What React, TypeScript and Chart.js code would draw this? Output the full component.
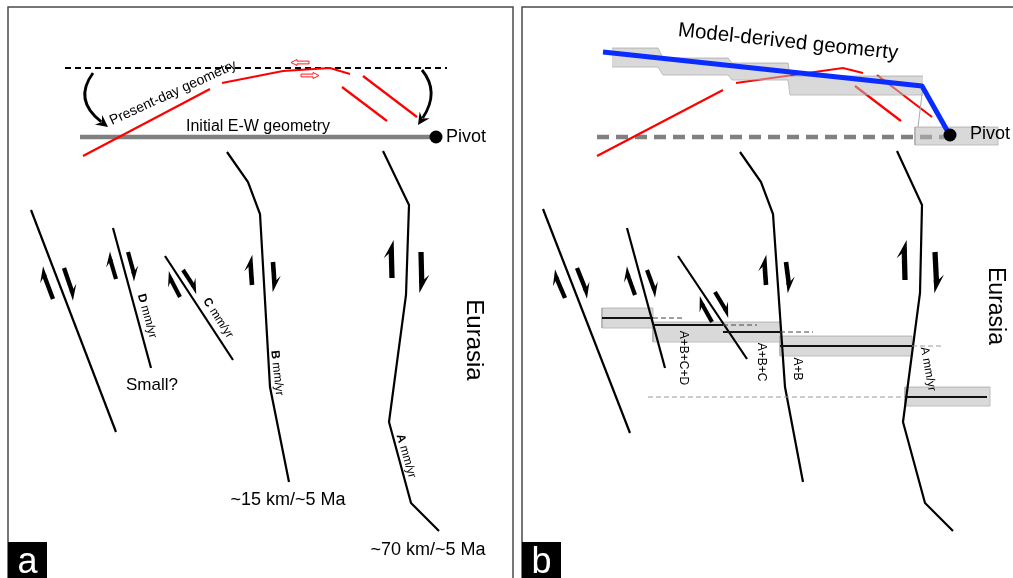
import React, { useEffect, useRef } from 'react';
import { Chart, registerables } from 'chart.js';

Chart.register(...registerables);

type P = [number, number];

// ---------- Panel a (map-view traces, page units) ----------
const aFaultWest: P[] = [[31, 210], [116, 432]];
const aFaultD: P[] = [[113, 228], [151, 368]];
const aFaultC: P[] = [[165, 256], [233, 360]];
const aFaultB: P[] = [[227, 152], [248, 182], [260, 214], [270, 387], [289, 482]];
const aFaultA: P[] = [[383, 151], [409, 205], [406, 295], [389, 422], [411, 503], [439, 531]];
const aRed1: P[] = [[83, 156], [210, 89]];
const aRed2: P[] = [[222, 83], [283, 71], [330, 68], [350, 74]];
const aRed3: P[] = [[342, 87], [387, 121]];
const aRed4: P[] = [[363, 76], [417, 117]];
const aPresentDay: P[] = [[65, 68], [447, 68]];
const aInitial: P[] = [[80, 137], [432, 137]];
const aPivot: P[] = [[436, 137]];

// ---------- Panel b ----------
const bFaultWest: P[] = [[543, 209], [630, 433]];
const bFaultD: P[] = [[627, 228], [665, 368]];
const bFaultC: P[] = [[678, 256], [747, 359]];
const bFaultB: P[] = [[740, 152], [761, 182], [773, 214], [785, 387], [803, 482]];
const bFaultA: P[] = [[897, 151], [922, 205], [920, 293], [903, 422], [925, 503], [953, 531]];
const bRed1: P[] = [[597, 156], [723, 90]];
const bRed2: P[] = [[736, 83], [843, 68], [863, 73]];
const bRed3: P[] = [[855, 86], [901, 121]];
const bRed4: P[] = [[877, 75], [932, 117]];
const bInitial: P[] = [[597, 137], [945, 137]];
const bModel: P[] = [[603, 52], [922, 86], [948, 132]];
const bModelBandTop: P[] = [[612, 48], [658, 48], [663, 58], [728, 58], [732, 63], [788, 63], [790, 76], [923, 76]];
const bModelBandBottom: P[] = [[612, 67], [658, 67], [663, 75], [728, 75], [732, 80], [788, 80], [790, 95], [923, 95]];
const bModelConnector: P[] = [[923, 86], [918, 127]];
const bPivot: P[] = [[950, 135]];
// gray uncertainty bands: [x1, x2, yTop, yBottom]
const bBands: number[][] = [[602, 653, 308, 328], [653, 780, 322, 342], [780, 912, 336, 356], [905, 990, 387, 406], [915, 998, 127, 145]];
// rate lines: [x1, x2, y]
const bRateSolid: number[][] = [[602, 653, 318], [653, 723, 325], [723, 780, 332], [780, 912, 346], [905, 987, 397]];
const bRateDashDark: number[][] = [[653, 683, 318], [723, 757, 325], [780, 813, 332]];
const bRateDashLight: number[][] = [[912, 943, 346], [648, 905, 397]];

// ---------- Annotations ----------
const panelFrames: number[][] = [[8, 7, 513, 600], [522, 7, 1030, 600]];
// harpoons: [tailX, tailY, tipX, tipY, side(-1 left / 1 right), scale]
const harpoons: number[][] = [
  [53, 299, 41, 267, -1, 1], [64, 268, 75, 300, 1, 1],
  [116, 279, 108, 252, -1, 0.95], [128, 252, 136, 281, 1, 0.95],
  [180, 297, 167, 272, -1, 0.95], [183, 270, 198, 293, 1, 0.95],
  [252, 285, 250, 255, -1, 1.05], [273, 262, 275, 292, 1, 1.05],
  [392, 278, 391, 240, -1, 1.2], [421, 252, 422, 293, 1, 1.2],
  [565, 298, 553, 270, -1, 1], [577, 268, 589, 298, 1, 1],
  [635, 295, 625, 267, -1, 0.95], [647, 270, 657, 297, 1, 0.95],
  [712, 322, 698, 297, -1, 0.95], [715, 292, 730, 317, 1, 0.95],
  [766, 285, 764, 255, -1, 1.05], [786, 262, 790, 293, 1, 1.05],
  [905, 280, 904, 240, -1, 1.2], [935, 252, 937, 293, 1, 1.2],
];
// curved rotation arrows: start, control, end
const curvedArrows: number[][] = [[93, 73, 73, 100, 108, 127], [422, 70, 440, 92, 418, 125]];
// open red slip arrows: [tipX, tipY, tailX]
const openArrows: number[][] = [[291, 62.5, 309], [319, 75.5, 301]];
const panelTags = [{ t: 'a', x: 8, y: 542 }, { t: 'b', x: 522, y: 542 }];

type Part = { t: string; b?: boolean };
type Lab = { parts: Part[]; x: number; y: number; size: number; rot?: number; align?: 'left' | 'center'; base?: CanvasTextBaseline };
const labels: Lab[] = [
  { parts: [{ t: 'Present-day geometry' }], x: 112, y: 125, size: 14, rot: -24.5, align: 'left', base: 'alphabetic' },
  { parts: [{ t: 'Initial E-W geometry' }], x: 258, y: 127, size: 16 },
  { parts: [{ t: 'Pivot' }], x: 446, y: 137, size: 18, align: 'left' },
  { parts: [{ t: 'Small?' }], x: 152, y: 385, size: 17 },
  { parts: [{ t: '~15 km/~5 Ma' }], x: 288, y: 500, size: 18 },
  { parts: [{ t: '~70 km/~5 Ma' }], x: 428, y: 550, size: 18 },
  { parts: [{ t: 'Eurasia' }], x: 474, y: 340, size: 24, rot: 90 },
  { parts: [{ t: 'D', b: true }, { t: ' mm/yr' }], x: 147, y: 316, size: 12, rot: 74.8 },
  { parts: [{ t: 'C', b: true }, { t: ' mm/yr' }], x: 218, y: 318, size: 12, rot: 56.8 },
  { parts: [{ t: 'B', b: true }, { t: ' mm/yr' }], x: 277, y: 373, size: 12, rot: 84 },
  { parts: [{ t: 'A', b: true }, { t: ' mm/yr' }], x: 406, y: 456, size: 12, rot: 74 },
  { parts: [{ t: 'Model-derived geomerty' }], x: 788, y: 42, size: 20.5, rot: 6 },
  { parts: [{ t: 'Pivot' }], x: 970, y: 134, size: 18, align: 'left' },
  { parts: [{ t: 'A+B+C+D' }], x: 683, y: 358, size: 12, rot: 90 },
  { parts: [{ t: 'A+B+C' }], x: 761, y: 362, size: 12, rot: 90 },
  { parts: [{ t: 'A+B' }], x: 797, y: 369, size: 12, rot: 90 },
  { parts: [{ t: 'A mm/yr' }], x: 928, y: 369, size: 12, rot: 80 },
  { parts: [{ t: 'Eurasia' }], x: 995, y: 306, size: 23, rot: 90 },
];

const FONT = '"Liberation Sans", Arial, "DejaVu Sans", sans-serif';

const pts = (a: P[]) => a.map(([x, y]) => ({ x, y }));

function lineDs(data: P[], color: string, width: number, order: number, dash: number[] = [], extra: any = {}) {
  return {
    type: 'line',
    data: pts(data),
    borderColor: color,
    borderWidth: width,
    borderDash: dash,
    borderCapStyle: 'butt',
    borderJoinStyle: 'miter',
    pointRadius: 0,
    pointHoverRadius: 0,
    tension: 0,
    fill: false,
    order,
    clip: false,
    ...extra,
  };
}

const overlay = {
  id: 'overlay',
  beforeDatasetsDraw(chart: any) {
    const ctx = chart.ctx;
    const sx = (v: number) => chart.scales.x.getPixelForValue(v);
    const sy = (v: number) => chart.scales.y.getPixelForValue(v);
    ctx.save();
    ctx.strokeStyle = '#4a4a4a';
    ctx.lineWidth = 1.5;
    for (const [x1, y1, x2, y2] of panelFrames) {
      ctx.strokeRect(sx(x1), sy(y1), sx(x2) - sx(x1), sy(y2) - sy(y1));
    }
    ctx.restore();
  },
  afterDatasetsDraw(chart: any) {
    const ctx = chart.ctx;
    const sx = (v: number) => chart.scales.x.getPixelForValue(v);
    const sy = (v: number) => chart.scales.y.getPixelForValue(v);
    ctx.save();
    // harpoons
    ctx.fillStyle = '#000';
    ctx.strokeStyle = '#000';
    for (const [tx, ty, hx, hy, side, sc] of harpoons) {
      const x0 = sx(tx), y0 = sy(ty), x1 = sx(hx), y1 = sy(hy);
      const dx = x1 - x0, dy = y1 - y0;
      const len = Math.hypot(dx, dy);
      const ux = dx / len, uy = dy / len;
      let nx = -uy, ny = ux;
      if (Math.sign(nx) !== Math.sign(side)) { nx = -nx; ny = -ny; }
      const w = 4.4 * sc, L = 15 * sc, W = 6.5 * sc;
      ctx.lineWidth = w;
      ctx.lineCap = 'butt';
      ctx.beginPath();
      ctx.moveTo(x0, y0);
      ctx.lineTo(x1 - ux * L * 0.55, y1 - uy * L * 0.55);
      ctx.stroke();
      ctx.beginPath();
      ctx.moveTo(x1 - nx * w / 2, y1 - ny * w / 2);
      ctx.lineTo(x1 - ux * L + nx * W, y1 - uy * L + ny * W);
      ctx.lineTo(x1 - ux * L * 0.7 + nx * w * 0.3, y1 - uy * L * 0.7 + ny * w * 0.3);
      ctx.lineTo(x1 - ux * L * 0.7 - nx * w / 2, y1 - uy * L * 0.7 - ny * w / 2);
      ctx.closePath();
      ctx.fill();
    }
    // curved arrows
    for (const [ax, ay, cx, cy, bx, by] of curvedArrows) {
      const p0x = sx(ax), p0y = sy(ay), cpx = sx(cx), cpy = sy(cy), p2x = sx(bx), p2y = sy(by);
      const dx = p2x - cpx, dy = p2y - cpy;
      const len = Math.hypot(dx, dy);
      const ux = dx / len, uy = dy / len;
      const H = 12;
      ctx.lineWidth = 2.8;
      ctx.beginPath();
      ctx.moveTo(p0x, p0y);
      ctx.quadraticCurveTo(cpx, cpy, p2x - ux * H * 0.7, p2y - uy * H * 0.7);
      ctx.stroke();
      const nx = -uy, ny = ux;
      ctx.beginPath();
      ctx.moveTo(p2x, p2y);
      ctx.lineTo(p2x - ux * H + nx * 6, p2y - uy * H + ny * 6);
      ctx.lineTo(p2x - ux * H * 0.65, p2y - uy * H * 0.65);
      ctx.lineTo(p2x - ux * H - nx * 6, p2y - uy * H - ny * 6);
      ctx.closePath();
      ctx.fill();
    }
    // open red slip arrows
    ctx.strokeStyle = '#ff1a1a';
    ctx.fillStyle = '#fff';
    ctx.lineWidth = 1;
    for (const [tipX, tipY, tailX] of openArrows) {
      const dir = Math.sign(tailX - tipX);
      const t = sx(tipX), yv = sy(tipY), e = sx(tailX);
      const hb = t + dir * 6;
      ctx.beginPath();
      ctx.moveTo(t, yv);
      ctx.lineTo(hb, yv - 3);
      ctx.lineTo(hb, yv - 1.4);
      ctx.lineTo(e, yv - 1.4);
      ctx.lineTo(e, yv + 1.4);
      ctx.lineTo(hb, yv + 1.4);
      ctx.lineTo(hb, yv + 3);
      ctx.closePath();
      ctx.fill();
      ctx.stroke();
    }
    // texts
    ctx.fillStyle = '#000';
    for (const lab of labels) {
      ctx.save();
      ctx.translate(sx(lab.x), sy(lab.y));
      ctx.rotate(((lab.rot || 0) * Math.PI) / 180);
      ctx.textBaseline = lab.base || 'middle';
      ctx.textAlign = 'left';
      let total = 0;
      for (const p of lab.parts) {
        ctx.font = `${p.b ? 'bold ' : ''}${lab.size}px ${FONT}`;
        total += ctx.measureText(p.t).width;
      }
      let x = lab.align === 'left' ? 0 : -total / 2;
      for (const p of lab.parts) {
        ctx.font = `${p.b ? 'bold ' : ''}${lab.size}px ${FONT}`;
        ctx.fillText(p.t, x, 0);
        x += ctx.measureText(p.t).width;
      }
      ctx.restore();
    }
    // panel tags
    for (const tag of panelTags) {
      const x = sx(tag.x), y = sy(tag.y);
      ctx.fillStyle = '#000';
      ctx.fillRect(x, y, 39, 40);
      ctx.fillStyle = '#fff';
      ctx.font = `36px ${FONT}`;
      ctx.textAlign = 'center';
      ctx.textBaseline = 'alphabetic';
      ctx.fillText(tag.t, x + 19.5, y + 31);
    }
    ctx.restore();
  },
};

export default function App() {
  const ref = useRef<HTMLCanvasElement | null>(null);
  useEffect(() => {
    document.body.style.margin = '0';
    const canvas = ref.current;
    if (!canvas) return;
    const datasets: any[] = [];
    const GRAY_FILL = 'rgba(185,185,185,0.55)';
    const GRAY_EDGE = 'rgba(140,140,140,0.55)';
    // bands (back)
    for (const [x1, x2, yt, yb] of bBands) {
      datasets.push(lineDs([[x1, yt], [x2, yt]], GRAY_EDGE, 1, 60, [], { fill: { value: yb }, backgroundColor: GRAY_FILL }));
      datasets.push(lineDs([[x1, yt], [x1, yb], [x2, yb], [x2, yt]], GRAY_EDGE, 1, 60));
    }
    // panel a lines
    datasets.push(lineDs(aPresentDay, '#000', 2, 50, [6, 4]));
    datasets.push(lineDs(aInitial, '#808080', 4.5, 50));
    datasets.push(lineDs(bInitial, '#808080', 4.5, 70, [12, 7]));
    for (const r of [aRed1, aRed2, aRed3, aRed4, bRed1, bRed2, bRed3, bRed4]) {
      datasets.push(lineDs(r, '#ff0000', 2.2, 45));
    }
    // model band (stepped), over red lines
    datasets.push(lineDs(bModelBandTop, GRAY_EDGE, 1, 30, [], { fill: '+1', backgroundColor: GRAY_FILL }));
    datasets.push(lineDs(bModelBandBottom, GRAY_EDGE, 1, 30));
    datasets.push(lineDs(bModelConnector, '#a8a8a8', 1, 30));
    // black faults
    for (const f of [aFaultWest, aFaultD, aFaultC, aFaultB, aFaultA, bFaultWest, bFaultD, bFaultC, bFaultB, bFaultA]) {
      datasets.push(lineDs(f, '#000', 2.2, 20));
    }
    // rate lines
    for (const [x1, x2, y] of bRateSolid) datasets.push(lineDs([[x1, y], [x2, y]], '#111', 2, 15));
    for (const [x1, x2, y] of bRateDashDark) datasets.push(lineDs([[x1, y], [x2, y]], '#444', 1, 15, [5, 3]));
    for (const [x1, x2, y] of bRateDashLight) datasets.push(lineDs([[x1, y], [x2, y]], '#9a9a9a', 1, 15, [5, 3]));
    // model geometry
    datasets.push(lineDs(bModel, '#0a2cff', 5, 10, [], { borderJoinStyle: 'round' }));
    // pivots
    for (const p of [aPivot, bPivot]) {
      datasets.push(lineDs(p, '#000', 0, 5, [], { pointRadius: 6.5, pointBackgroundColor: '#000', pointBorderWidth: 0, showLine: false }));
    }
    const chart = new Chart(canvas, {
      type: 'line',
      data: { datasets },
      options: {
        animation: false,
        responsive: false,
        events: [],
        devicePixelRatio: 1,
        layout: { padding: 0, autoPadding: false },
        plugins: { legend: { display: false }, tooltip: { enabled: false } },
        scales: {
          x: { type: 'linear', min: 0, max: 1013, display: false },
          y: { type: 'linear', min: 0, max: 578, reverse: true, display: false },
        },
      },
      plugins: [overlay],
    } as any);
    return () => chart.destroy();
  }, []);
  return (
    <div style={{ position: 'fixed', left: 0, top: 0, width: 1013, height: 578, background: '#fff' }}>
      <canvas ref={ref} width={1013} height={578} style={{ display: 'block' }} />
    </div>
  );
}
